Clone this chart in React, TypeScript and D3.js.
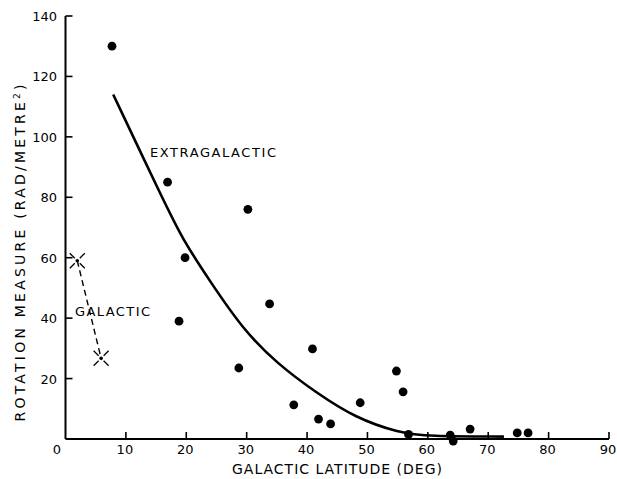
import React, { useRef, useEffect } from "react";
import * as d3 from "d3";

// galactic latitude (deg) vs rotation measure (rad/m^2) of sources
const sourceLat = [7.7, 16.9, 19.8, 18.8, 30.2, 28.7, 33.8, 40.9, 37.8, 41.9, 43.9, 48.8, 54.8, 55.9, 56.8, 63.7, 64.2, 67.0, 74.8, 76.6];
const sourceRM = [130, 85, 60, 39, 76, 23.5, 44.7, 29.8, 11.3, 6.6, 5, 12, 22.5, 15.6, 1.5, 1.3, -0.7, 3.3, 2, 2];

// extragalactic fit curve
const curveLat = [7.9, 16.1, 19.4, 24, 29.3, 35, 41.6, 48, 55.3, 60, 72.6];
const curveRM = [114, 79.5, 66, 52, 36.5, 25, 15.2, 7, 2, 0.9, 0.8];

// galactic pair (crossed points joined by dashes)
const galLat = [1.95, 5.9];
const galRM = [59, 26.7];

const xTicks = [10, 20, 30, 40, 50, 60, 70, 80, 90];
const yTicks = [20, 40, 60, 80, 100, 120, 140];

const FONT = "'DejaVu Sans', sans-serif";

const App = () => {
    const svgRef = useRef<SVGSVGElement | null>(null);
    const width = 617;
    const height = 479;

    useEffect(() => {
        const svg = d3.select(svgRef.current);
        svg.selectAll("*").remove();

        const x = d3.scaleLinear().domain([0, 90]).range([65.5, 609]);
        const y = d3.scaleLinear().domain([0, 140]).range([439, 16]);

        const g = svg.append("g").attr("fill", "none").attr("stroke", "#000");

        // axes lines
        g.append("line")
            .attr("x1", x(0)).attr("x2", x(0))
            .attr("y1", y(0)).attr("y2", y(140))
            .attr("stroke-width", 2);
        g.append("line")
            .attr("x1", x(0)).attr("x2", x(90))
            .attr("y1", y(0)).attr("y2", y(0))
            .attr("stroke-width", 2);

        // inward ticks
        g.selectAll(".xt")
            .data(xTicks)
            .enter()
            .append("line")
            .attr("x1", d => x(d)).attr("x2", d => x(d))
            .attr("y1", y(0)).attr("y2", y(0) - 7)
            .attr("stroke-width", 1.6);
        g.selectAll(".yt")
            .data(yTicks)
            .enter()
            .append("line")
            .attr("x1", x(0)).attr("x2", x(0) + 7)
            .attr("y1", d => y(d)).attr("y2", d => y(d))
            .attr("stroke-width", 1.6);

        const labels = svg.append("g")
            .attr("font-family", FONT)
            .attr("font-size", 13)
            .attr("fill", "#000");

        labels.selectAll(".xl")
            .data(xTicks)
            .enter()
            .append("text")
            .attr("x", d => x(d) - 1)
            .attr("y", 454)
            .attr("text-anchor", "middle")
            .text(d => d);
        labels.append("text")
            .attr("x", 57).attr("y", 454)
            .attr("text-anchor", "middle")
            .text("0");

        labels.selectAll(".yl")
            .data(yTicks)
            .enter()
            .append("text")
            .attr("x", 57)
            .attr("y", d => y(d) + 5)
            .attr("text-anchor", "end")
            .text(d => d);

        // axis titles
        labels.append("text")
            .attr("x", 337).attr("y", 474)
            .attr("text-anchor", "middle")
            .attr("font-size", 14)
            .attr("textLength", 210)
            .attr("lengthAdjust", "spacing")
            .text("GALACTIC LATITUDE (DEG)");

        const yt = labels.append("text")
            .attr("transform", "translate(25,253) rotate(-90)")
            .attr("text-anchor", "middle")
            .attr("font-size", 14)
            .attr("textLength", 337)
            .attr("lengthAdjust", "spacing");
        yt.append("tspan").text("ROTATION MEASURE (RAD/METRE");
        yt.append("tspan").attr("baseline-shift", "super").attr("font-size", 9).text("2");
        yt.append("tspan").text(")");

        // fitted curve
        const line = d3.line<number>()
            .x((_, i) => x(curveLat[i]))
            .y((_, i) => y(curveRM[i]))
            .curve(d3.curveBasis);
        g.append("path")
            .attr("d", line(curveLat))
            .attr("stroke-width", 2.6);

        // source points
        svg.append("g")
            .selectAll("circle")
            .data(sourceLat)
            .enter()
            .append("circle")
            .attr("cx", d => x(d))
            .attr("cy", (_, i) => y(sourceRM[i]))
            .attr("r", 4.4)
            .attr("fill", "#000");

        // galactic pair
        g.append("line")
            .attr("x1", x(galLat[0])).attr("y1", y(galRM[0]))
            .attr("x2", x(galLat[1])).attr("y2", y(galRM[1]))
            .attr("stroke-width", 1.4)
            .attr("stroke-dasharray", "6,4");
        galLat.forEach((lat, i) => {
            const cx = x(lat);
            const cy = y(galRM[i]);
            [[1, 1], [1, -1], [-1, 1], [-1, -1]].forEach(([dx, dy]) => {
                g.append("line")
                    .attr("x1", cx + dx * 2.5).attr("y1", cy + dy * 2.5)
                    .attr("x2", cx + dx * 7.5).attr("y2", cy + dy * 7.5)
                    .attr("stroke-width", 1.3);
            });
            svg.append("circle")
                .attr("cx", cx).attr("cy", cy)
                .attr("r", 1.8)
                .attr("fill", "#000");
        });

        // curve annotations
        labels.append("text")
            .attr("x", 150).attr("y", 157)
            .attr("textLength", 126)
            .attr("lengthAdjust", "spacing")
            .text("EXTRAGALACTIC");
        labels.append("text")
            .attr("x", 75).attr("y", 316)
            .attr("textLength", 75)
            .attr("lengthAdjust", "spacing")
            .text("GALACTIC");
    }, []);

    return (
        <svg
            ref={svgRef}
            width={width}
            height={height}
            style={{ position: "absolute", left: 0, top: 0, background: "#fff" }}
        />
    );
};

export default App;
